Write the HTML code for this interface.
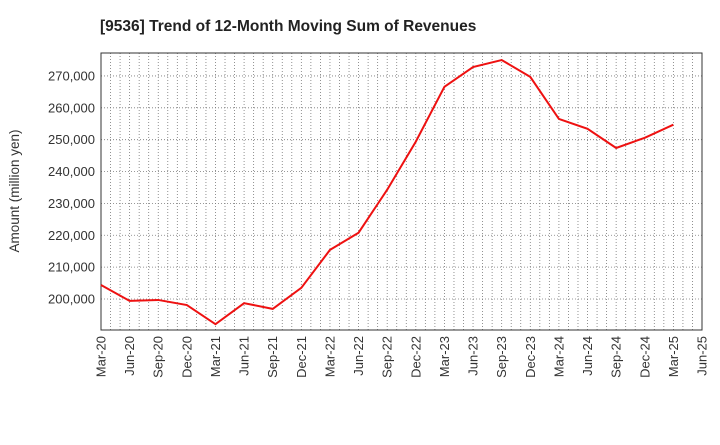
<!DOCTYPE html>
<html><head><meta charset="utf-8"><style>
body{margin:0;background:#fff;font-family:"Liberation Sans",sans-serif;}
svg text{font-family:"Liberation Sans",sans-serif;}
</style></head><body>
<svg id="chart" width="720" height="440" xmlns="http://www.w3.org/2000/svg">
<text x="100" y="31" font-size="15.5" font-weight="bold" fill="#222">[9536]  Trend of 12-Month Moving Sum of Revenues</text>
<g id="grid"></g>
<rect x="101" y="53" width="601" height="277" fill="none" stroke="#333" stroke-width="1"/>
<g id="axes"></g>
<text transform="translate(19,191) rotate(-90)" text-anchor="middle" font-size="13.5" fill="#333">Amount (million yen)</text>
<polyline id="line" fill="none" stroke="#ee1111" stroke-width="2"/>
</svg>
<script>
const xLabels=["Mar-20","Jun-20","Sep-20","Dec-20","Mar-21","Jun-21","Sep-21","Dec-21","Mar-22","Jun-22","Sep-22","Dec-22","Mar-23","Jun-23","Sep-23","Dec-23","Mar-24","Jun-24","Sep-24","Dec-24","Mar-25","Jun-25"];
const yTicks=[200000,210000,220000,230000,240000,250000,260000,270000];
const values=[204400,199400,199700,198100,192100,198700,196900,203500,215400,220800,234300,249400,266600,272800,275000,269700,256500,253400,247400,250600,254700];
const X0=101,X1=702,Y0=53,Y1=330,YMIN=190270,YMAX=277200;
const nQ=xLabels.length-1;
const xs=i=>X0+(X1-X0)*i/nQ;
const ys=v=>Y1-(v-YMIN)/(YMAX-YMIN)*(Y1-Y0);
const NS="http://www.w3.org/2000/svg";
const grid=document.getElementById('grid'),axes=document.getElementById('axes');
function mk(t,a,p){const e=document.createElementNS(NS,t);for(const k in a)e.setAttribute(k,a[k]);p.appendChild(e);return e;}
for(let m=1;m<nQ*3;m++){const x=X0+(X1-X0)*m/(nQ*3);
const l=mk('line',{x1:x,x2:x,y1:Y0,y2:Y1,stroke:'#777','stroke-width':0.8,'stroke-dasharray':'1,2'},grid);

}
yTicks.forEach(v=>{const y=ys(v);
const l=mk('line',{x1:X0,x2:X1,y1:y,y2:y,stroke:'#777','stroke-width':0.8,'stroke-dasharray':'1,2'},grid);


const t=mk('text',{x:X0-6,y:y+4.5,'text-anchor':'end','font-size':13,fill:'#333'},axes);
t.textContent=v.toLocaleString('en-US');

});
xLabels.forEach((s,i)=>{const x=xs(i);
const t=mk('text',{transform:`translate(${x+4.5},${Y1+6}) rotate(-90)`,'text-anchor':'end','font-size':13,fill:'#333'},axes);
t.textContent=s;

});
document.getElementById('line').setAttribute('points',values.map((v,i)=>xs(i)+','+ys(v)).join(' '));
</script>
</body></html>
